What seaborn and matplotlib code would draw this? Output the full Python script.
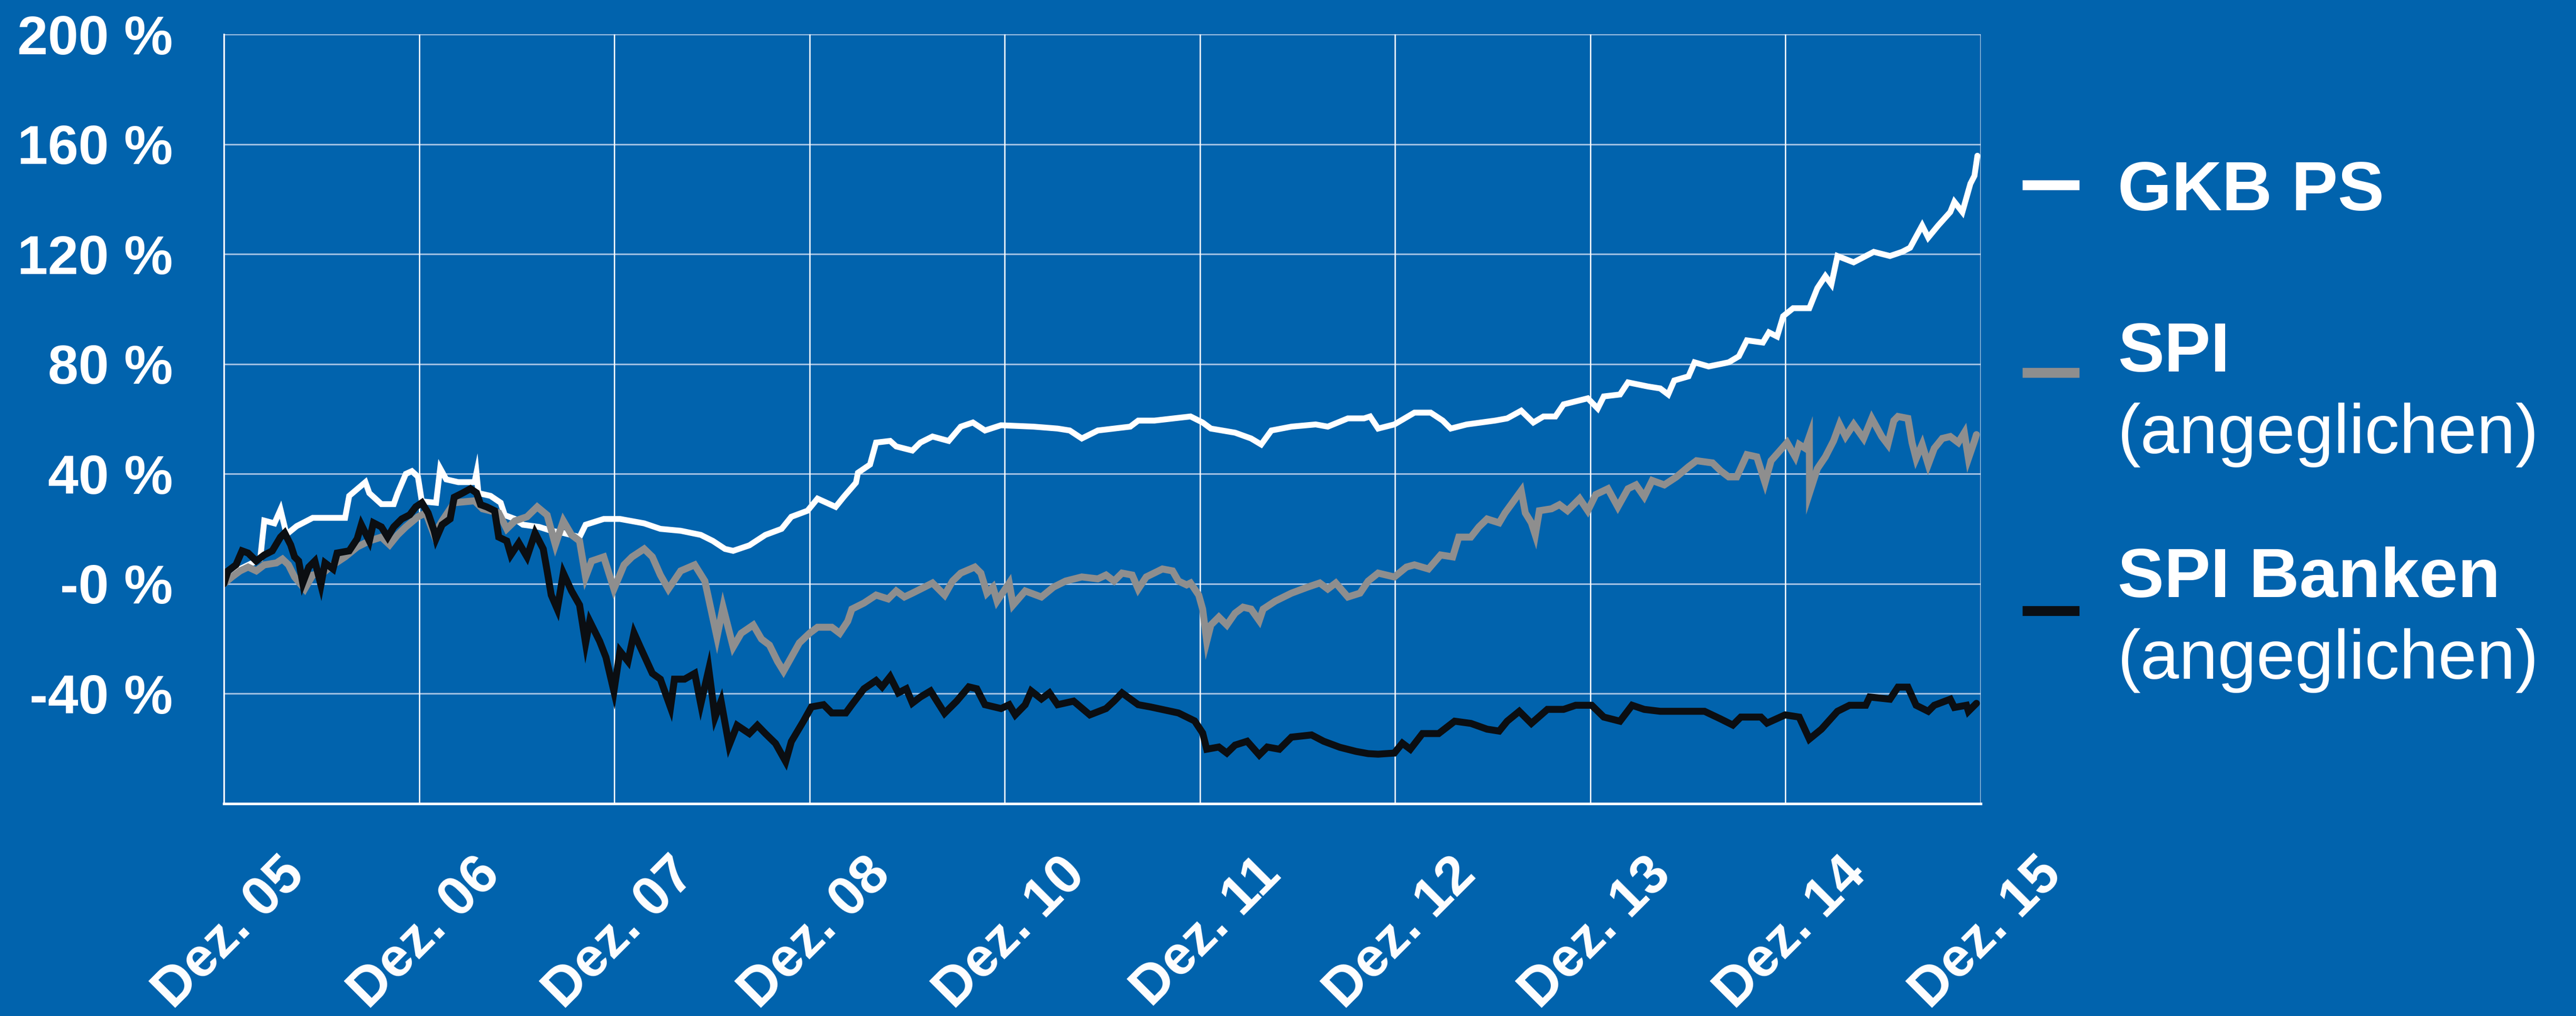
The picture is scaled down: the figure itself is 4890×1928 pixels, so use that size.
import numpy as np
import pandas as pd
import seaborn as sns
import matplotlib.pyplot as plt
from matplotlib.lines import Line2D
from matplotlib.transforms import ScaledTranslation

# x positions are in tick intervals from "Dez. 05" (0) to "Dez. 15" (9)
tick_labels = ["Dez. 05", "Dez. 06", "Dez. 07", "Dez. 08", "Dez. 10",
               "Dez. 11", "Dez. 12", "Dez. 13", "Dez. 14", "Dez. 15"]
y_ticks = [-80, -40, 0, 40, 80, 120, 160, 200]
y_tick_labels = ["", "-40 %", "-0 %", "40 %", "80 %", "120 %", "160 %", "200 %"]

gkb_t = [0, 0.083, 0.186, 0.207, 0.259, 0.290, 0.321, 0.373, 0.455, 0.621, 0.642, 0.725, 0.745,
         0.807, 0.870, 0.890, 0.932, 0.963, 0.994, 1.014, 1.087, 1.108, 1.139, 1.201, 1.284, 1.294,
         1.304, 1.366, 1.418, 1.439, 1.491, 1.532, 1.615, 1.677, 1.739, 1.822, 1.853, 1.946, 2.029,
         2.153, 2.236, 2.340, 2.443, 2.505, 2.567, 2.609, 2.692, 2.774, 2.857,
         2.907, 2.990, 3.041, 3.134, 3.176, 3.238, 3.248, 3.310, 3.341, 3.413, 3.444, 3.527, 3.568,
         3.630, 3.713, 3.775, 3.837, 3.899, 3.981, 4.147, 4.271, 4.333, 4.395, 4.477, 4.643, 4.684,
         4.767, 4.952, 5.014, 5.056, 5.180, 5.262, 5.314, 5.366, 5.469, 5.593, 5.655, 5.758, 5.841,
         5.872, 5.913, 5.996, 6.099, 6.182, 6.244, 6.285, 6.367, 6.512, 6.574, 6.646, 6.708, 6.760,
         6.821, 6.863, 6.987, 7.038, 7.069, 7.152, 7.193, 7.296, 7.358, 7.399, 7.430, 7.503, 7.534,
         7.606, 7.709, 7.761, 7.802, 7.884, 7.915, 7.957, 7.988, 8.039, 8.122, 8.163, 8.204, 8.235,
         8.266, 8.349, 8.452, 8.535, 8.597, 8.638, 8.700, 8.731, 8.782, 8.844, 8.865, 8.906, 8.947,
         8.968, 8.983]
gkb_v = [0, 5.4, 9, 23, 22, 27, 18, 21, 24, 24, 32, 37, 33,
         29, 29, 33, 40, 41, 39, 30, 29.5, 42, 38, 37, 37, 40.4,
         33, 32, 29.5, 25, 23.6, 21.5, 20.7, 19.3, 18.5, 17, 21.5, 23.6, 23.6,
         22, 20, 19.3, 17.8, 15.6, 12.7, 12, 14, 17.8, 20,
         24.4, 26.6, 31, 28, 31.7, 36.8, 40.4, 43.4, 51.4, 52, 50, 48.5, 51.4,
         53.6, 52, 57.2, 58.7, 55.8, 57.7, 57.2, 56.5, 55.8, 52.9, 55.8, 57.2, 59.4,
         59.4, 60.9, 58.7, 56.5, 55, 52.9, 50.7, 55.8, 57.2, 58, 57.2, 60.2, 60.2,
         60.9, 56.5, 58, 62.3, 62.3, 59.4, 56.5, 58, 59.4, 60.2, 63, 58.7, 60.9,
         60.9, 65.3, 67.5, 63.8, 68.2, 68.9, 73.3, 71.8, 71.1, 68.9, 74, 75.5, 80.6,
         79.1, 80.6, 82.8, 88.6, 87.8, 91.5, 90, 97.4, 100.3, 100.3, 107.6, 112, 109,
         119.3, 117, 120.8, 119.3, 120.8, 122.3, 130.4, 126, 130.4, 135.3, 139, 135.3, 145.6,
         148.5, 155.8]

spi_t = [0, 0.041, 0.083, 0.124, 0.166, 0.207, 0.269, 0.300, 0.331, 0.362, 0.414, 0.455, 0.507,
         0.559, 0.621, 0.683, 0.745, 0.807, 0.849, 0.890, 0.932, 0.994, 1.035, 1.077, 1.118, 1.180,
         1.284, 1.325, 1.408, 1.449, 1.491, 1.553, 1.605, 1.656, 1.698, 1.739, 1.781, 1.822, 1.853,
         1.884, 1.946, 1.998, 2.050, 2.091, 2.153, 2.195, 2.236, 2.277, 2.340, 2.412, 2.464, 2.495,
         2.526, 2.557, 2.609, 2.650, 2.712, 2.754, 2.795, 2.836, 2.867,
         2.907, 2.948, 3.0, 3.041, 3.114, 3.155, 3.196, 3.217, 3.279, 3.341, 3.403, 3.444, 3.486,
         3.527, 3.589, 3.630, 3.692, 3.733, 3.775, 3.847, 3.878, 3.909, 3.940, 3.961, 4.023, 4.043,
         4.105, 4.188, 4.250, 4.312, 4.395, 4.477, 4.519, 4.560, 4.601, 4.653, 4.684, 4.725, 4.808,
         4.860, 4.890, 4.932, 4.952, 4.994, 5.014, 5.035, 5.056, 5.097, 5.138, 5.180, 5.221, 5.262,
         5.304, 5.324, 5.386, 5.469, 5.552, 5.614, 5.655, 5.696, 5.758, 5.820, 5.862,
         5.913, 5.996, 6.058, 6.099, 6.171, 6.233, 6.295, 6.326, 6.388, 6.429, 6.471, 6.533, 6.563,
         6.646, 6.667, 6.698, 6.718, 6.739, 6.801, 6.842, 6.883, 6.945, 6.987, 7.028, 7.090, 7.141,
         7.193, 7.234, 7.276, 7.317, 7.379, 7.441, 7.503, 7.544, 7.626, 7.668, 7.709, 7.750, 7.802,
         7.853, 7.895, 7.926, 8.008, 8.050, 8.070, 8.101, 8.122, 8.123, 8.163, 8.204, 8.246, 8.277,
         8.308, 8.349, 8.400, 8.442, 8.493, 8.524, 8.555, 8.576, 8.627, 8.648, 8.669, 8.700, 8.731,
         8.762, 8.803, 8.844, 8.885, 8.916, 8.937, 8.968, 8.978]
spi_v = [0, 2.5, 4.7, 6.1, 4.7, 6.9, 7.6, 9, 6.9, 2.5, -1.9, 3.2, 3.9,
         6.9, 9.8, 13.4, 15.6, 17, 14.2, 17.8, 20.7, 24.4, 25.8, 17.8, 22.9, 29.5,
         30.2, 27.3, 25.8, 20, 22.9, 24.4, 28, 25, 14.2, 22.9, 17.8, 15.6, 2.5,
         8.3, 9.8, -1.9, 6.9, 9.8, 12.7, 9.8, 3.2, -1.9, 4.7, 6.9, 1, -9.2,
         -19.4, -8.5, -23, -18, -15, -20.1, -22.3, -28.2, -31.8,
         -26.7, -21.5, -18, -15.8, -15.8, -18, -13.6, -9.2, -7, -4.1, -5.5, -2.6, -4.8,
         -3.4, -1.2, 0.3, -4.1, 1, 3.9, 6.1, 3.9, -3.4, -1.2, -6.3, 0.3, -7.7,
         -2.6, -4.8, -1.2, 1, 2.5, 1.8, 3.2, 1, 3.9, 3.2, -1.9, 2.5, 5.4,
         4.7, 1, -0.4, 0.3, -4.1, -9.2, -20.9, -15, -12.1, -15, -10.7, -8.5, -9.2,
         -13.4, -9.2, -6.3, -3.4, -1.2, 0.3, -1.9, 0.3, -4.8, -3.4, 1,
         3.9, 2.5, 6.1, 6.9, 5.4, 10.5, 9.8, 17, 17, 20.7, 23.6, 22.2, 25.8,
         33.9, 25.8, 22.2, 17.8, 26.6, 27.3, 28.8, 26.6, 31, 26.6, 32.5, 34.6, 28,
         34.6, 36, 31.7, 37.6, 36, 38.9, 42.6, 44.8, 44, 41.1, 38.9, 38.9, 47,
         46.2, 36.8, 44.8, 51.4, 46.2, 50.7, 49.3, 53.6, 33.1, 41.9, 46.2, 52, 58,
         53.6, 58, 52.9, 60.2, 53.6, 50.7, 59.4, 60.9, 60.2, 51.4, 45.6, 50.7, 43.4,
         49.3, 52.9, 53.6, 51.4, 55, 45.6, 52, 54.3]

bank_t = [0, 0.021, 0.062, 0.093, 0.124, 0.166, 0.207, 0.248, 0.290, 0.311, 0.342, 0.362, 0.383,
          0.404, 0.435, 0.466, 0.497, 0.518, 0.559, 0.580, 0.642, 0.683, 0.704, 0.745, 0.766, 0.807,
          0.839, 0.870, 0.911, 0.952, 0.983, 1.014, 1.046, 1.077, 1.087, 1.118, 1.159, 1.180, 1.222,
          1.263, 1.294, 1.315, 1.346, 1.387, 1.408, 1.449, 1.470, 1.511, 1.553, 1.594, 1.636, 1.656,
          1.677, 1.708, 1.739, 1.781, 1.822, 1.853, 1.874, 1.925, 1.957, 1.998, 2.029, 2.070, 2.101,
          2.133, 2.195, 2.236, 2.288, 2.308, 2.360, 2.412, 2.443, 2.484, 2.516, 2.547, 2.588, 2.629,
          2.692, 2.733, 2.774, 2.826, 2.878,
          2.907, 2.969, 3.010, 3.072, 3.114, 3.186, 3.217, 3.279, 3.341, 3.372, 3.413, 3.455, 3.496,
          3.527, 3.568, 3.620, 3.692, 3.754, 3.816, 3.857, 3.899, 3.981, 4.023, 4.054, 4.105, 4.136,
          4.188, 4.229, 4.271, 4.353, 4.436, 4.519, 4.560, 4.601, 4.684, 4.746, 4.890, 4.973, 5.014,
          5.035, 5.097, 5.138, 5.180, 5.242, 5.304, 5.345, 5.407, 5.469, 5.572, 5.634, 5.717, 5.800,
          5.862,
          5.913, 5.996, 6.037, 6.078, 6.140, 6.223, 6.305, 6.388, 6.471, 6.533, 6.574, 6.636, 6.698,
          6.780, 6.863, 6.925, 7.007, 7.069, 7.152, 7.214, 7.276, 7.358, 7.585, 7.668, 7.730, 7.771,
          7.874, 7.905, 7.998, 8.070, 8.122, 8.184, 8.266, 8.328, 8.411, 8.431, 8.535, 8.576, 8.627,
          8.669, 8.731, 8.762, 8.844, 8.865, 8.927, 8.937, 8.978]
bank_v = [0, 4.7, 6.9, 12, 11.2, 8.3, 10.5, 12, 17, 18.5, 14.2, 9.8, 8.3,
          0.3, 6.1, 8.3, -0.4, 7.6, 5.4, 11.2, 12, 16.4, 21.5, 15.6, 22.2, 20.7,
          17, 20.7, 23.6, 25.1, 28, 29.5, 25.8, 19.3, 16.4, 21.5, 23.6, 31.5, 33,
          34.6, 33.1, 28.8, 28, 26.6, 17, 15.6, 10.5, 14.9, 9.8, 18.5, 12.7, 4.7,
          -4.1, -9.2, 3.9, -2.6, -7.7, -21.6, -13.6, -20.9, -26.7, -39.1, -24.5, -28.2, -17.9,
          -23, -32.6, -34.7, -45, -34.7, -34.7, -32.6, -43.8, -31.1, -48.6, -42.7, -58.8, -51.5,
          -54.5, -51.5, -54.5, -58.1, -64.7,
          -57.4, -50, -44.8, -44, -47, -47, -44, -38.2, -35.2, -37.5, -33.8, -39.7, -38.2,
          -43.4, -41.2, -39, -47.1, -42.7, -37.5, -38.2, -44, -45.4, -44, -47.7, -44, -39,
          -41.9, -39.7, -44, -42.7, -47.7, -45.4, -42.7, -39.7, -44, -44.8, -47, -49.9, -54.3,
          -60.2, -59.4, -61.6, -58.7, -57.3, -62.3, -59.4, -60.2, -55.8, -55, -57.3, -59.5, -61,
          -61.8,
          -62, -61.6, -58, -60.2, -54.5, -54.5, -50, -50.8, -52.9, -53.6, -50, -46.4, -50.8,
          -45.7, -45.7, -44.2, -44.2, -48.5, -50, -44.2, -45.7, -46.4, -46.4, -49.2, -51.4, -48.5,
          -48.5, -50.7, -47.7, -48.5, -56.5, -52.9, -46.4, -44.2, -44.2, -41.2, -42, -37.6, -37.6,
          -44.2, -46.4, -44.2, -42, -45, -44.2, -46.4, -43.5]

series_names = ["GKB PS", "SPI", "SPI Banken"]
series_colors = ["#ffffff", "#8e8e8e", "#0b0e12"]
series_widths = [8, 9.5, 9.5]

BG = "#0163ad"

df = pd.concat([
    pd.DataFrame({"t": gkb_t, "v": gkb_v, "series": "GKB PS"}),
    pd.DataFrame({"t": spi_t, "v": spi_v, "series": "SPI"}),
    pd.DataFrame({"t": bank_t, "v": bank_v, "series": "SPI Banken"}),
], ignore_index=True)

sns.set_style("white")
plt.rcParams['font.family'] = ['Liberation Sans', 'DejaVu Sans']

fig = plt.figure(figsize=(48.9, 19.28), dpi=100, facecolor=BG)
ax = fig.add_axes([425 / 4890, 1 - 1525 / 1928, 3335 / 4890, 1460 / 1928])
ax.set_facecolor(BG)

sns.lineplot(data=df, x="t", y="v", hue="series", hue_order=series_names,
             palette=dict(zip(series_names, series_colors)), sort=False,
             estimator=None, linewidth=8, legend=False, ax=ax)
for line, lw in zip(ax.lines, series_widths):
    line.set_linewidth(lw)
    line.set_solid_joinstyle("miter")

ax.set_xlim(0, 9)
ax.set_ylim(-80, 200)
ax.set_xlabel("")
ax.set_ylabel("")

ax.set_yticks(y_ticks)
ax.set_yticklabels(y_tick_labels, fontsize=75, fontweight="bold", color="white")
ax.set_xticks(range(len(tick_labels)))
ax.set_xticklabels(tick_labels, fontsize=75, fontweight="bold", color="white",
                   rotation=45, ha="right", va="baseline", rotation_mode="anchor")
ax.tick_params(axis="y", length=6, width=2, color="white", direction="out", pad=64)
ax.tick_params(axis="x", length=6, width=2, color="white", direction="out", pad=0)

shift = ScaledTranslation(1.57, -1.30, fig.dpi_scale_trans)
for lab in ax.get_xticklabels():
    lab.set_transform(lab.get_transform() + shift)

# grid
ax.grid(False)
for y in y_ticks[1:]:
    ax.axhline(y, color="#9fc0e2", lw=2.2, zorder=0.5)
for x in range(1, len(tick_labels)):
    ax.axvline(x, color="white", lw=1.8, zorder=0.5)

for side in ["top", "right"]:
    ax.spines[side].set_visible(False)
ax.spines["left"].set_color("white")
ax.spines["left"].set_linewidth(2.2)
ax.spines["bottom"].set_color("white")
ax.spines["bottom"].set_linewidth(3.6)

# legend drawn at the right
hx0, hx1 = 3839 / 4890, 3947 / 4890
handle_y = [1 - 351 / 1928, 1 - 707 / 1928, 1 - 1159 / 1928]
for hy, col in zip(handle_y, series_colors):
    fig.add_artist(Line2D([hx0, hx1], [hy, hy], transform=fig.transFigure,
                          color=col, lw=13.5, solid_capstyle="butt"))

tx = 4020 / 4890
fig.text(tx, 1 - 399 / 1928, "GKB PS", fontsize=95, fontweight="bold", color="white", va="baseline")
fig.text(tx, 1 - 705 / 1928, "SPI", fontsize=95, fontweight="bold", color="white", va="baseline")
fig.text(tx, 1 - 860 / 1928, "(angeglichen)", fontsize=95, color="white", va="baseline")
fig.text(tx, 1 - 1133 / 1928, "SPI Banken", fontsize=95, fontweight="bold", color="white", va="baseline")
fig.text(tx, 1 - 1288 / 1928, "(angeglichen)", fontsize=95, color="white", va="baseline")

fig.savefig("out.png", dpi=100, facecolor=BG)
